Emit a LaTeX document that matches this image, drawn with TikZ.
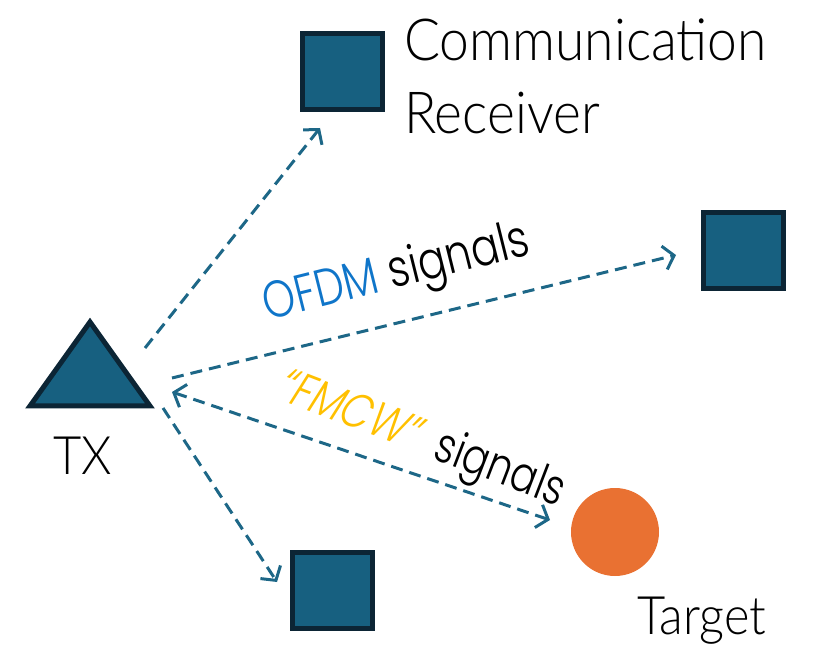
\documentclass[tikz,border=0pt]{standalone}
\usepackage{fontspec}
\usepackage{tikz}
\usetikzlibrary{arrows.meta}
\newfontfamily\lblfont[FakeStretch=0.92]{Lato Light}
\newfontfamily\sigfont[FakeStretch=0.8]{Poppins Light}
\newfontfamily\sigslant[FakeStretch=0.8,FakeSlant=0.2]{Poppins Light}
\definecolor{rxfill}{HTML}{176080}
\definecolor{rxline}{HTML}{0C2535}
\definecolor{sigline}{HTML}{1D6787}
\definecolor{ofdmblue}{HTML}{0F75C9}
\definecolor{fmcwgold}{HTML}{FFC000}
\definecolor{tgtorange}{HTML}{E97132}

\begin{document}
\begin{tikzpicture}[x=1pt, y=-1pt,
  rx/.style={draw=rxline, fill=rxfill, line width=5pt, minimum width=80pt, minimum height=76pt, inner sep=0pt},
  tip/.style={Straight Barb[length=10pt, width=24pt, line width=3pt]},
  sig/.style={draw=sigline, line width=3pt, dash pattern=on 12pt off 7pt, -{Straight Barb[length=10pt, width=24pt, line width=3pt]}},
  lbl/.style={inner sep=0pt, font=\lblfont\fontsize{58}{73}\selectfont}]
\useasboundingbox (0,0) rectangle (828,668);

% transmitter
\coordinate (tl) at (30,406);
\coordinate (tr) at (150,406);
\coordinate (tt) at (90,322);
\draw[draw=rxline, fill=rxfill, line width=5pt, line join=miter] (tl) -- (tr) -- (tt) -- cycle;
\node[lbl, anchor=base, font=\lblfont\fontsize{53}{60}\selectfont] (txlabel) at (83,475) {TX};

% receivers
\node[rx] (rxcom) at (342.5,71.5) {};
\node[rx] (rxright) at (743,251) {};
\node[rx] (rxbottom) at (332.5,590.5) {};
\node[lbl, anchor=north west, align=left] (comlabel) at (404,19) {Communication\\Receiver};

% target
\node[circle, fill=tgtorange, minimum size=88pt, inner sep=0pt] (target) at (615,532) {};
\node[lbl, anchor=base west, font=\lblfont\fontsize{53}{60}\selectfont] (tgtlabel) at (637,634) {Target};

% signal paths
\coordinate (s1) at (145,348);
\coordinate (e1) at (320,128);
\coordinate (s2) at (172,378);
\coordinate (e2) at (676,255);
\coordinate (s3) at (172,392);
\coordinate (e3) at (550,520);
\coordinate (s4) at (163,408);
\coordinate (e4) at (277,582);

\draw[sig] (s1) -- (e1);
\draw[sig] (s2) -- (e2);
\draw[sig, {Straight Barb[length=10pt, width=24pt, line width=3pt]}-{Straight Barb[length=10pt, width=24pt, line width=3pt]}] (s3) -- (e3);
\draw[sig] (s4) -- (e4);

\node[anchor=base, rotate=14, inner sep=0pt, font=\sigfont\fontsize{52}{60}\selectfont] (ofdm) at (400,287) {\textcolor{ofdmblue}{OFDM} signals};
\node[anchor=base, rotate=-21, inner sep=0pt, font=\sigfont\fontsize{49}{60}\selectfont] (fmcw) at (416,452) {{\sigslant\textcolor{fmcwgold}{“FMCW”}}\hspace{12pt} signals};
\end{tikzpicture}
\end{document}
